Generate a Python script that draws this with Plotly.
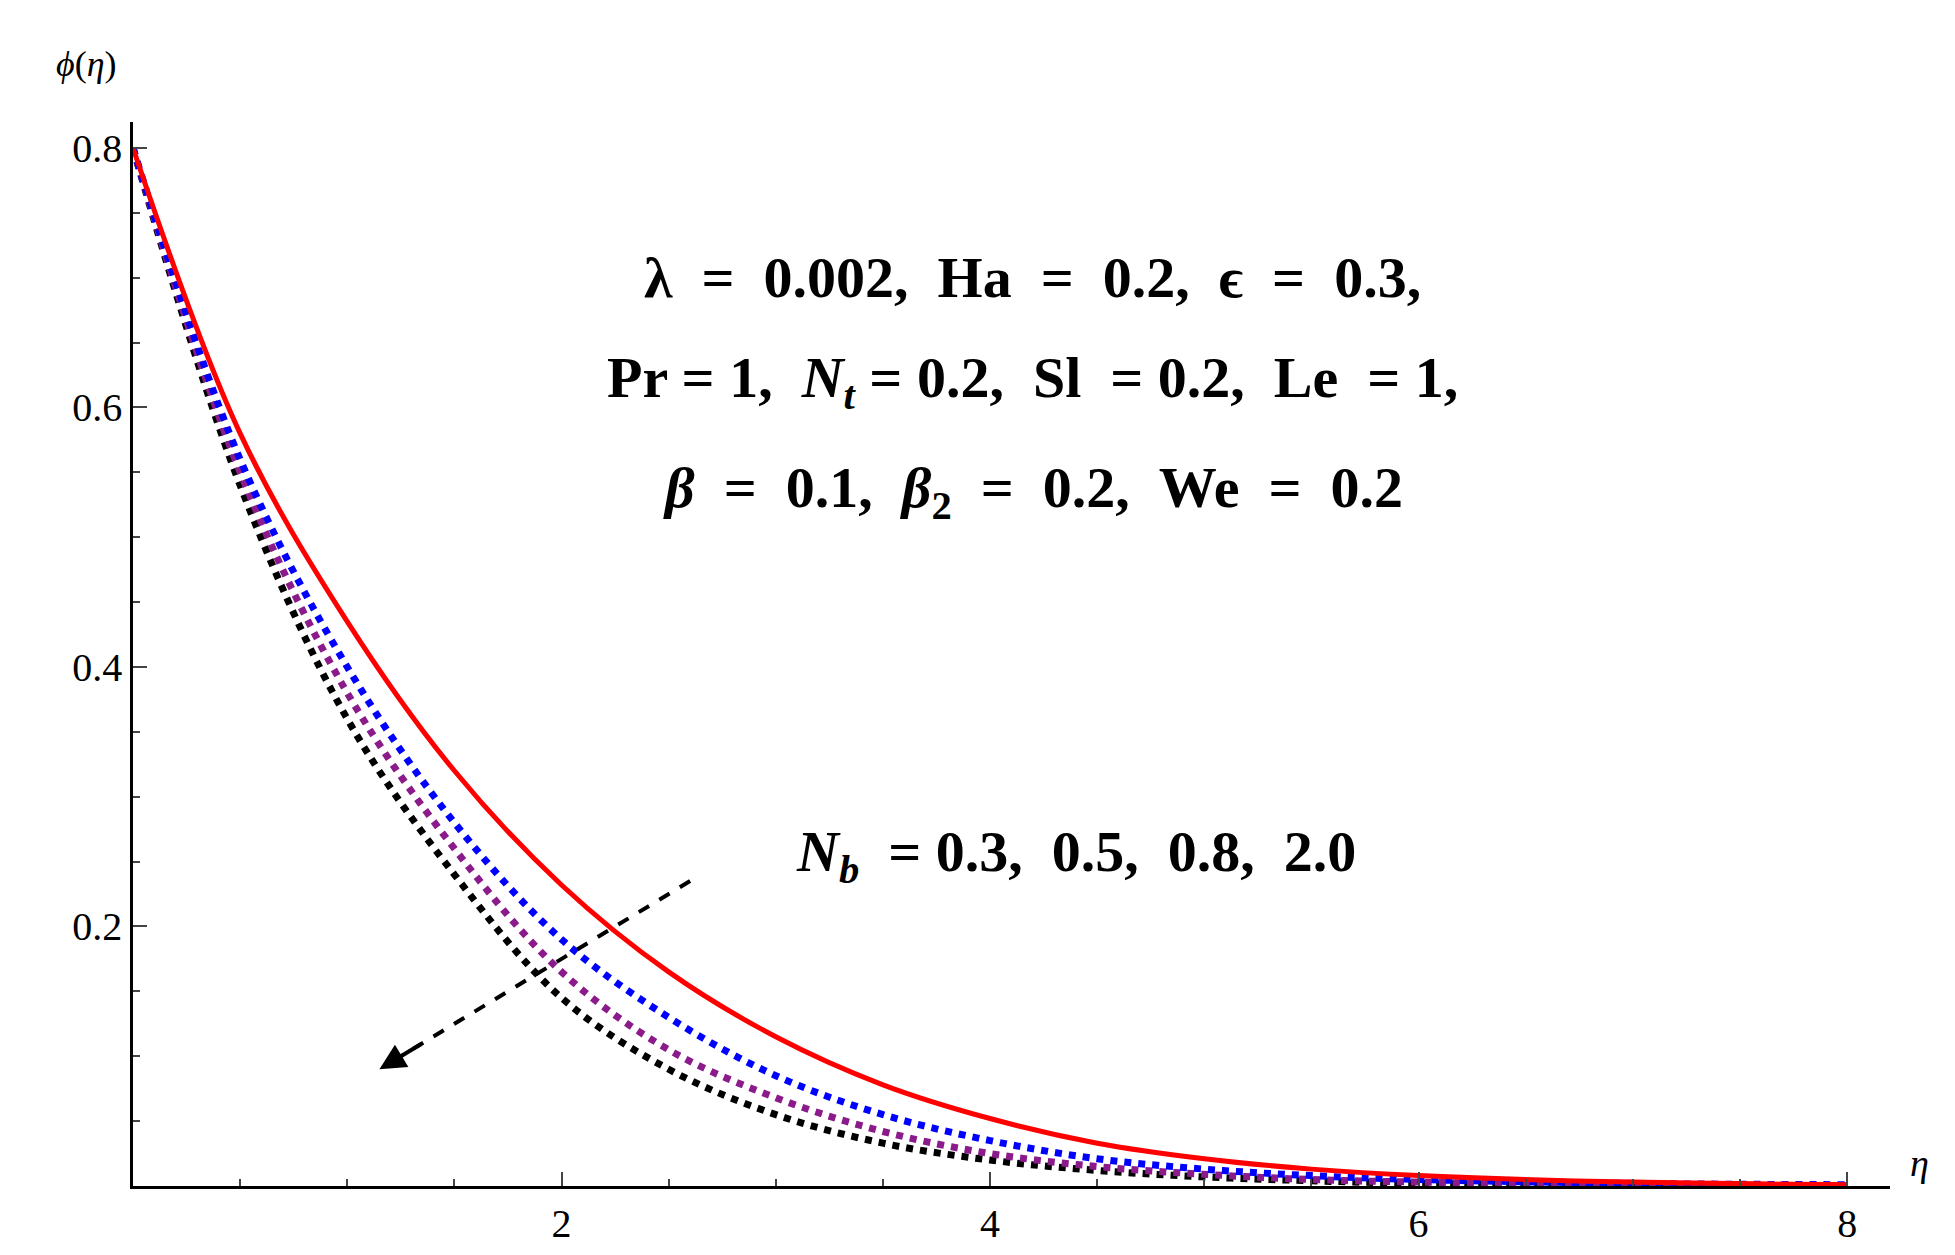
import plotly.graph_objects as go

eta = [0, 0.5, 1, 1.5, 2, 2.5, 3, 3.5, 4, 4.5, 5, 5.5, 6, 7, 8]
red = [0.8, 0.58, 0.435, 0.32, 0.232, 0.165, 0.115, 0.078, 0.052, 0.033, 0.021, 0.013, 0.008, 0.003, 0.001]
blue = [0.8, 0.56, 0.40, 0.28, 0.19, 0.13, 0.085, 0.055, 0.035, 0.021, 0.013, 0.008, 0.005, 0.002, 0.001]
purple = [0.8, 0.55, 0.38, 0.26, 0.165, 0.105, 0.068, 0.042, 0.025, 0.015, 0.009, 0.005, 0.003, 0.001, 0.0]
black = [0.8, 0.54, 0.36, 0.24, 0.145, 0.09, 0.055, 0.033, 0.02, 0.012, 0.007, 0.004, 0.002, 0.001, 0.0]

fig = go.Figure()
for y, c, d in [(black, "black", "dot"), (purple, "#8B1A8B", "dot"), (blue, "blue", "dot"), (red, "red", "solid")]:
    fig.add_trace(go.Scatter(x=eta, y=y, mode="lines", line=dict(color=c, width=7 if d == "dot" else 5, dash=d, shape="spline"), showlegend=False))

fig.update_layout(
    width=1955, height=1255, paper_bgcolor="white", plot_bgcolor="white",
    margin=dict(l=125, r=73, t=114, b=77),
    font=dict(family="Liberation Serif, serif", size=30, color="black"),
    xaxis=dict(range=[0, 8.2], tickvals=[2, 4, 6, 8], ticks="inside", ticklen=14, tickwidth=2,
               minor=dict(dtick=0.5, ticks="inside", ticklen=7, tickwidth=1.5), showgrid=False, zeroline=False,
               showline=True, linecolor="black", linewidth=2.5, tickfont=dict(size=40, family="Liberation Serif")),
    yaxis=dict(range=[0, 0.82], tickvals=[0.2, 0.4, 0.6, 0.8], ticks="inside", ticklen=14, tickwidth=2,
               minor=dict(dtick=0.05, ticks="inside", ticklen=7, tickwidth=1.5), showgrid=False, zeroline=False,
               showline=True, linecolor="black", linewidth=2.5, tickfont=dict(size=40, family="Liberation Serif")),
)
b = dict(family="Liberation Serif, serif", size=58, color="black")
fig.add_annotation(xref="paper", yref="paper", x=-0.045, y=1.075, text="<i>ϕ</i>(<i>η</i>)", showarrow=False, font=dict(size=36, family="Liberation Serif"), xanchor="left")
fig.add_annotation(xref="paper", yref="paper", x=1.01, y=0.0, text="<i>η</i>", showarrow=False, font=dict(size=38, family="Liberation Serif"), xanchor="left")
fig.add_annotation(x=4.2, y=0.7, text="<b>λ  =  0.002,  Ha  =  0.2,  ϵ  =  0.3,</b>", showarrow=False, font=b)
fig.add_annotation(x=4.2, y=0.62, text="<b>Pr = 1,  <i>N<sub>t</sub></i> = 0.2,  Sl  = 0.2,  Le  = 1,</b>", showarrow=False, font=b)
fig.add_annotation(x=4.2, y=0.535, text="<b><i>β</i>  =  0.1,  <i>β</i><sub>2</sub>  =  0.2,  We  =  0.2</b>", showarrow=False, font=b)
fig.add_annotation(x=4.4, y=0.255, text="<b><i>N<sub>b</sub></i>  = 0.3,  0.5,  0.8,  2.0</b>", showarrow=False, font=b)
fig.add_shape(type="line", x0=2.6, y0=0.235, x1=1.25, y1=0.1, line=dict(color="black", width=4, dash="dash"))
fig.add_annotation(x=1.15, y=0.09, ax=1.35, ay=0.11, axref="x", ayref="y", text="", showarrow=True,
                   arrowhead=2, arrowsize=1.3, arrowwidth=4, arrowcolor="black")
fig.write_html("out.html")
